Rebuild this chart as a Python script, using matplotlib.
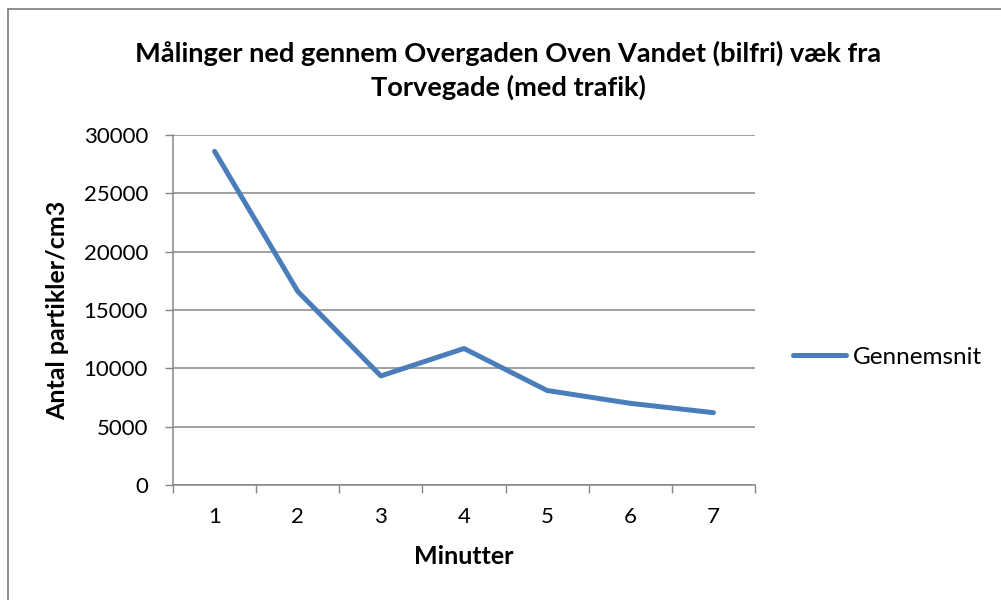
import matplotlib
matplotlib.use("Agg")
import matplotlib.pyplot as plt
from matplotlib.lines import Line2D

categories = ["1", "2", "3", "4", "5", "6", "7"]
gennemsnit = [28600, 16600, 9350, 11700, 8100, 7000, 6200]
yticks = [0, 5000, 10000, 15000, 20000, 25000, 30000]
title = "Målinger ned gennem Overgaden Oven Vandet (bilfri) væk fra\nTorvegade (med trafik)"
xlabel = "Minutter"
ylabel = "Antal partikler/cm3"
series_name = "Gennemsnit"

W, H = 1001, 600
plt.rcParams['font.family'] = ['Lato', 'DejaVu Sans']
fig = plt.figure(figsize=(W / 100, H / 100), dpi=100)
fig.patch.set_facecolor('white')

left, right, top, bottom = 173, 755, 135, 485
ax = fig.add_axes([left / W, 1 - bottom / H, (right - left) / W, (bottom - top) / H])

grey = '#868686'
xs = list(range(len(categories)))
ax.plot(xs, gennemsnit, color='#4A7EBB', lw=3.6, solid_capstyle='round',
        solid_joinstyle='round', label=series_name, zorder=3)

ax.set_xlim(-0.5, len(categories) - 0.5)
ax.set_ylim(0, 30000)
ax.set_yticks(yticks)
ax.set_yticklabels([str(v) for v in yticks])
ax.set_xticks(xs)
ax.set_xticklabels(categories)
ax.set_xticks([i - 0.5 for i in range(len(categories) + 1)], minor=True)

ax.tick_params(axis='x', which='major', length=0, pad=16, labelsize=16, colors='black')
ax.tick_params(axis='x', which='minor', length=6, width=1, color=grey, direction='out')
ax.tick_params(axis='y', which='major', length=6, width=1, color=grey, direction='out',
               pad=12, labelsize=16, labelcolor='black')

ax.grid(axis='y', color=grey, lw=1.1, zorder=0)
ax.set_axisbelow(True)
for s in ['top', 'right']:
    ax.spines[s].set_visible(False)
for s in ['left', 'bottom']:
    ax.spines[s].set_color(grey)
    ax.spines[s].set_linewidth(1.1)

fig.text(508 / W, 1 - 70 / H, title, ha='center', va='center', fontsize=19.6,
         fontweight='bold', linespacing=1.4)
fig.text((left + right) / 2 / W, 1 - 557 / H, xlabel, ha='center', va='center',
         fontsize=18, fontweight='bold')
fig.text(58 / W, 1 - 310 / H, ylabel, ha='center', va='center', rotation=90,
         fontsize=18, fontweight='bold')

leg = ax.legend(loc='center left', bbox_to_anchor=(793 / W, 1 - 357 / H),
                bbox_transform=fig.transFigure, frameon=False, fontsize=17.5,
                handlelength=2.2, handletextpad=0.25, borderpad=0, borderaxespad=0)

# chart area border
fig.add_artist(Line2D([7.5 / W, 7.5 / W], [0, 1 - 9 / H], transform=fig.transFigure,
                      color=grey, lw=1.3))
fig.add_artist(Line2D([7.5 / W, 1], [1 - 9 / H, 1 - 9 / H], transform=fig.transFigure,
                      color=grey, lw=1.3))

fig.savefig('out.png', dpi=100)
